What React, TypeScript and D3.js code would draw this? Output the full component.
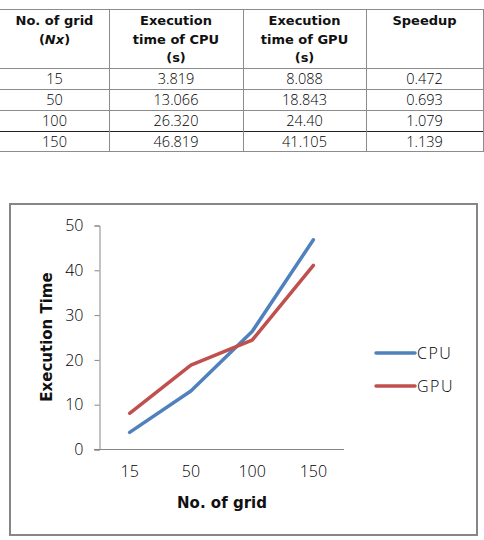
import { useEffect, useRef } from 'react';
import * as d3 from 'd3';

// Benchmark results: grid size vs. execution time (seconds)
const grids = ['15', '50', '100', '150'];
const cpuTimes = ['3.819', '13.066', '26.320', '46.819'];
const gpuTimes = ['8.088', '18.843', '24.40', '41.105'];
const speedups = ['0.472', '0.693', '1.079', '1.139'];
const yTicks = [0, 10, 20, 30, 40, 50];
const seriesNames = ['CPU', 'GPU'];

const BOLD_FONT = '"DejaVu Sans", sans-serif';
const LIGHT_FONT = '"Open Sans", "DejaVu Sans", sans-serif';
const BLUE = '#4f81bd';
const RED = '#c0504d';

const App: React.FC = () => {
    const svgRef = useRef<SVGSVGElement>(null);

    useEffect(() => {
        if (svgRef.current) {
            draw();
        }
    }, []);

    const draw = () => {
        const svg = d3.select(svgRef.current);
        svg.selectAll('*').remove();

        // ---- Table ----
        const colEdges = [0, 109, 243, 366, 483];
        const rowEdges = [9, 68, 89, 110, 131, 151];
        const table = svg.append('g');

        rowEdges.forEach((y, i) => {
            table.append('line')
                .attr('x1', 0).attr('x2', 484)
                .attr('y1', y + 0.5).attr('y2', y + 0.5)
                .attr('stroke', i === 4 ? '#222' : '#8c8c8c')
                .attr('stroke-width', 1);
        });
        colEdges.slice(1).forEach((x) => {
            table.append('line')
                .attr('x1', x + 0.5).attr('x2', x + 0.5)
                .attr('y1', rowEdges[0]).attr('y2', rowEdges[rowEdges.length - 1])
                .attr('stroke', '#8c8c8c');
        });

        const colCenter = (i: number) => (colEdges[i] + colEdges[i + 1]) / 2;

        const headers: string[][] = [
            ['No. of grid', '(Nx)'],
            ['Execution', 'time of CPU', '(s)'],
            ['Execution', 'time of GPU', '(s)'],
            ['Speedup'],
        ];
        headers.forEach((lines, ci) => {
            lines.forEach((line, li) => {
                const t = table.append('text')
                    .attr('x', colCenter(ci))
                    .attr('y', 25 + li * 18.5)
                    .attr('text-anchor', 'middle')
                    .style('font-family', BOLD_FONT)
                    .style('font-size', '13px')
                    .style('font-weight', 'bold')
                    .attr('fill', '#111');
                if (line === '(Nx)') {
                    t.append('tspan').text('(');
                    t.append('tspan').style('font-style', 'italic').text('Nx');
                    t.append('tspan').text(')');
                } else {
                    t.text(line);
                }
            });
        });

        const columns = [grids, cpuTimes, gpuTimes, speedups];
        columns.forEach((col, ci) => {
            col.forEach((v, ri) => {
                table.append('text')
                    .attr('x', colCenter(ci))
                    .attr('y', rowEdges[ri + 1] + 15.5)
                    .attr('text-anchor', 'middle')
                    .style('font-family', LIGHT_FONT)
                    .style('font-size', '14.5px')
                    .style('font-weight', '300')
                    .attr('fill', '#000')
                    .text(v);
            });
        });

        // ---- Chart ----
        svg.append('rect')
            .attr('x', 10).attr('y', 204)
            .attr('width', 467).attr('height', 331)
            .attr('fill', '#fff')
            .attr('stroke', '#868686')
            .attr('stroke-width', 2);

        const xScale = d3.scaleBand<string>()
            .domain(grids)
            .range([99, 344]);

        const yScale = d3.scaleLinear()
            .domain([0, 50])
            .range([449.5, 225.5]);

        const xAt = (g: string) => (xScale(g) || 0) + xScale.bandwidth() / 2;

        // y axis
        const yAxis = d3.axisLeft(yScale).tickValues(yTicks).tickSize(5).tickPadding(11);
        const gy = svg.append('g')
            .attr('transform', 'translate(99.5, 0)')
            .call(yAxis);
        gy.select('.domain').attr('stroke', '#868686');
        gy.selectAll('.tick line').attr('stroke', '#868686');
        gy.selectAll('.tick text')
            .style('font-family', LIGHT_FONT)
            .style('font-size', '16px')
            .style('font-weight', '300')
            .attr('fill', '#000');

        // x axis (no ticks, line runs past the y axis like Excel)
        const xAxis = d3.axisBottom(xScale).tickSize(0).tickPadding(16);
        const gx = svg.append('g')
            .attr('transform', 'translate(0, 449.5)')
            .call(xAxis);
        gx.select('.domain').attr('d', `M94,0H344`).attr('stroke', '#868686');
        gx.selectAll('.tick text')
            .style('font-family', LIGHT_FONT)
            .style('font-size', '16px')
            .style('font-weight', '300')
            .attr('fill', '#000');

        // axis titles
        svg.append('text')
            .attr('x', 222).attr('y', 508)
            .attr('text-anchor', 'middle')
            .style('font-family', BOLD_FONT)
            .style('font-size', '15px')
            .style('font-weight', 'bold')
            .attr('fill', '#111')
            .text('No. of grid');

        svg.append('text')
            .attr('transform', 'translate(52, 337) rotate(-90)')
            .attr('text-anchor', 'middle')
            .style('font-family', BOLD_FONT)
            .style('font-size', '15px')
            .style('font-weight', 'bold')
            .attr('fill', '#111')
            .text('Execution Time');

        // series lines
        const line = d3.line<string>()
            .x((_, i) => xAt(grids[i]))
            .y((d) => yScale(+d));

        [cpuTimes, gpuTimes].forEach((series, si) => {
            svg.append('path')
                .datum(series)
                .attr('d', line)
                .attr('fill', 'none')
                .attr('stroke', si === 0 ? BLUE : RED)
                .attr('stroke-width', 3.5)
                .attr('stroke-linecap', 'round')
                .attr('stroke-linejoin', 'round');
        });

        // legend
        seriesNames.forEach((name, i) => {
            const y = 353 + i * 33;
            svg.append('line')
                .attr('x1', 376).attr('x2', 415)
                .attr('y1', y).attr('y2', y)
                .attr('stroke', i === 0 ? BLUE : RED)
                .attr('stroke-width', 3.5)
                .attr('stroke-linecap', 'round');
            svg.append('text')
                .attr('x', 417).attr('y', y + 6)
                .style('font-family', LIGHT_FONT)
                .style('font-size', '16px')
                .style('font-weight', '300')
                .style('letter-spacing', '1.5px')
                .attr('fill', '#000')
                .text(name);
        });
    };

    return (
        <svg
            ref={svgRef}
            width={484}
            height={540}
            style={{ position: 'absolute', left: 0, top: 0, background: '#fff' }}
        />
    );
};

export default App;
